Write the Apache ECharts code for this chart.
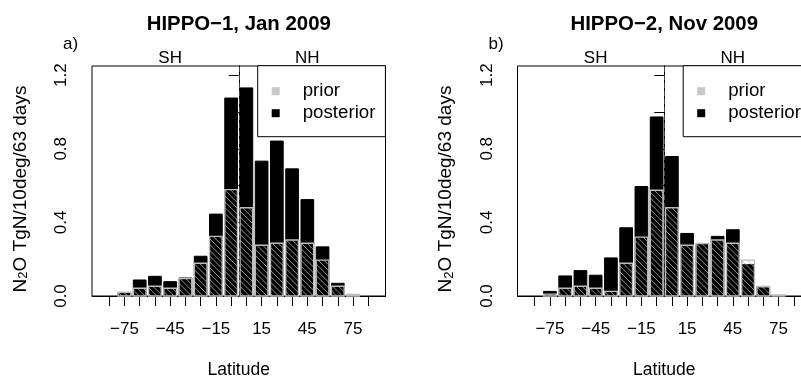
<!DOCTYPE html>
<html><head><meta charset="utf-8">
<script src="https://cdn.jsdelivr.net/npm/echarts@6/dist/echarts.min.js"></script>
<style>html,body{margin:0;padding:0;background:#fff;overflow:hidden}#c{width:801px;height:378px}</style>
</head><body><div id="c"></div>
<script>
// ---- data ----
const latitudes = [-85,-75,-65,-55,-45,-35,-25,-15,-5,5,15,25,35,45,55,65,75,85];
const xTickValues = [-85,-75,-65,-55,-45,-35,-25,-15,-5,5,15,25,35,45,55,65,75,85];
const xLabelValues = [-75,-45,-15,15,45,75];
const yTickValues = [0,0.2,0.4,0.6,0.8,1.0,1.2];
const yLabelValues = [0,0.4,0.8,1.2];
const hemispherePos = [-45, 45];
const hemisphereNames = ['SH', 'NH'];
const panelTitles = ['HIPPO\u22121, Jan 2009', 'HIPPO\u22122, Nov 2009'];
const panelTags = ['a)', 'b)'];
const seriesNames = ['prior', 'posterior'];
const priorA     = [0, 0.020, 0.042, 0.053, 0.042, 0.095, 0.178, 0.324, 0.578, 0.480, 0.276, 0.287, 0.304, 0.287, 0.195, 0.053, 0.008, 0];
const posteriorA = [0, 0.015, 0.087, 0.107, 0.078, 0.098, 0.216, 0.445, 1.076, 1.131, 0.733, 0.842, 0.691, 0.524, 0.267, 0.069, 0.003, 0];
const priorB     = [0, 0.010, 0.042, 0.053, 0.042, 0.025, 0.178, 0.320, 0.575, 0.480, 0.276, 0.285, 0.304, 0.287, 0.195, 0.050, 0.006, 0];
const posteriorB = [0, 0.025, 0.109, 0.138, 0.113, 0.207, 0.371, 0.595, 0.973, 0.758, 0.340, 0.280, 0.324, 0.360, 0.170, 0.052, 0.002, 0];

// ---- layout ----
const FONT = '"Liberation Sans", Arial, Helvetica, sans-serif';
const panelLeft = [92, 517.5];
const panelWidth = 293.5;
const gridTop = 66, gridHeight = 230;
const xMin = -96.3, xMax = 96.3, yMax = 1.25;
const halfBar = 10 / 1.2 / 2;

function barRect(api) {
  const x = api.value(0), v = api.value(1);
  if (!v) return null;
  const p0 = api.coord([x - halfBar, 0]);
  const p1 = api.coord([x + halfBar, v]);
  return { x: p0[0], y: p1[1], width: p1[0] - p0[0], height: p0[1] - p1[1] };
}
function renderPosterior(params, api) {
  const r = barRect(api);
  if (!r) return null;
  return { type: 'rect', shape: r, style: { fill: '#000', stroke: '#000', lineWidth: 1 } };
}
function renderPrior(params, api) {
  const r = barRect(api);
  if (!r) return null;
  const s = 5.8;
  const x0 = r.x, x1 = r.x + r.width, y0 = r.y, y1 = r.y + r.height;
  const children = [];
  for (let c = Math.ceil((y0 - x1) / s) * s; c <= y1 - x0; c += s) {
    const xa = Math.max(x0, y0 - c), xb = Math.min(x1, y1 - c);
    if (xb > xa) children.push({ type: 'line', shape: { x1: xa, y1: xa + c, x2: xb, y2: xb + c },
      style: { stroke: '#aaaaaa', lineWidth: 0.85 } });
  }
  children.push({ type: 'rect', shape: r, style: { fill: null, stroke: '#bdbdbd', lineWidth: 1.4 } });
  return { type: 'group', children };
}

const grids = [], xAxes = [], yAxes = [], series = [], titles = [], legends = [], graphics = [];
const panels = [[priorA, posteriorA], [priorB, posteriorB]];
panels.forEach((pd, k) => {
  const L = panelLeft[k];
  grids.push({ left: L, top: gridTop, width: panelWidth, height: gridHeight, show: true,
    borderColor: '#000', borderWidth: 1, backgroundColor: 'transparent', containLabel: false,
    outerBoundsMode: 'none' });
  xAxes.push({ gridIndex: k, type: 'value', min: xMin, max: xMax, position: 'bottom',
    axisLine: { show: true, onZero: false, lineStyle: { color: '#000', width: 1 } },
    axisTick: { show: true, customValues: xTickValues, length: 10, lineStyle: { color: '#000' } },
    axisLabel: { show: true, customValues: xLabelValues, margin: 25, color: '#000', fontSize: 17, fontFamily: FONT,
      formatter: v => (v < 0 ? '\u2212' : '') + Math.abs(v) },
    splitLine: { show: false },
    name: 'Latitude', nameLocation: 'middle', nameGap: 65,
    nameTextStyle: { color: '#000', fontSize: 17.5, fontFamily: FONT } });
  xAxes.push({ gridIndex: k, type: 'value', min: xMin, max: xMax, position: 'top',
    axisLine: { show: false }, axisTick: { show: false }, splitLine: { show: false },
    axisLabel: { show: true, customValues: hemispherePos, margin: -1, color: '#000', fontSize: 17, fontFamily: FONT,
      formatter: v => hemisphereNames[hemispherePos.indexOf(v)] } });
  yAxes.push({ gridIndex: k, type: 'value', min: 0, max: yMax, position: 'left',
    axisLine: { show: true, lineStyle: { color: '#000', width: 1 } },
    axisTick: { show: true, customValues: yTickValues, length: 10, lineStyle: { color: '#000' } },
    axisLabel: { show: true, customValues: yLabelValues, rotate: 90, margin: 22, color: '#000', fontSize: 17, fontFamily: FONT,
      formatter: v => v.toFixed(1) },
    splitLine: { show: false },
    name: '{n|N}{s|2}{n|O TgN/10deg/63 days}', nameLocation: 'middle', nameRotate: 90, nameGap: 62,
    nameTextStyle: { color: '#000', fontSize: 19, fontFamily: FONT, padding: [0, 16, 0, 0],
      rich: { n: { fontSize: 19, fontFamily: FONT, color: '#000' },
              s: { fontSize: 13, fontFamily: FONT, color: '#000', lineHeight: 8, verticalAlign: 'bottom' } } } });
  const xi = 2 * k;
  series.push({ name: seriesNames[1], type: 'custom', xAxisIndex: xi, yAxisIndex: k, z: 2,
    renderItem: renderPosterior, encode: { x: 0, y: 1 },
    data: latitudes.map((x, i) => [x, pd[1][i]]) });
  series.push({ name: seriesNames[0], type: 'custom', xAxisIndex: xi, yAxisIndex: k, z: 3,
    renderItem: renderPrior, encode: { x: 0, y: 1 },
    data: latitudes.map((x, i) => [x, pd[0][i]]) });
  series.push({ name: 'equator', type: 'line', xAxisIndex: xi, yAxisIndex: k, z: 4, data: [],
    markLine: { silent: true, symbol: ['none', 'none'], label: { show: false },
      lineStyle: { color: '#444', type: [5, 3], width: 1 }, data: [{ xAxis: 0 }] } });
  titles.push({ text: panelTitles[k], left: L + panelWidth / 2, top: 14, textAlign: 'center', padding: 0,
    textStyle: { fontSize: 20.4, fontWeight: 'bold', color: '#000', fontFamily: FONT } });
  legends.push({ left: L + 165.7, top: 65.7, orient: 'vertical', padding: [16, 10, 14, 14], itemGap: 3,
    itemWidth: 8, itemHeight: 8, borderColor: '#000', borderWidth: 1, backgroundColor: '#fff',
    selectedMode: false, borderRadius: 0,
    textStyle: { fontSize: 18.7, color: '#000', fontFamily: FONT, padding: [0, 0, 0, 18] },
    data: [{ name: seriesNames[0], icon: 'rect', itemStyle: { color: '#c9c9c9', borderWidth: 0 } },
           { name: seriesNames[1], icon: 'rect', itemStyle: { color: '#000', borderWidth: 0 } }] });
  graphics.push({ type: 'text', x: L - 29, y: 44,
    style: { text: panelTags[k], fontSize: 17, fontFamily: FONT, fill: '#000', verticalAlign: 'middle', align: 'left' } });
});

const chart = echarts.init(document.getElementById('c'), null, { renderer: 'canvas' });
chart.setOption({
  animation: false, backgroundColor: '#fff',
  title: titles, legend: legends, grid: grids, xAxis: xAxes, yAxis: yAxes, series, graphic: graphics
});
</script></body></html>
